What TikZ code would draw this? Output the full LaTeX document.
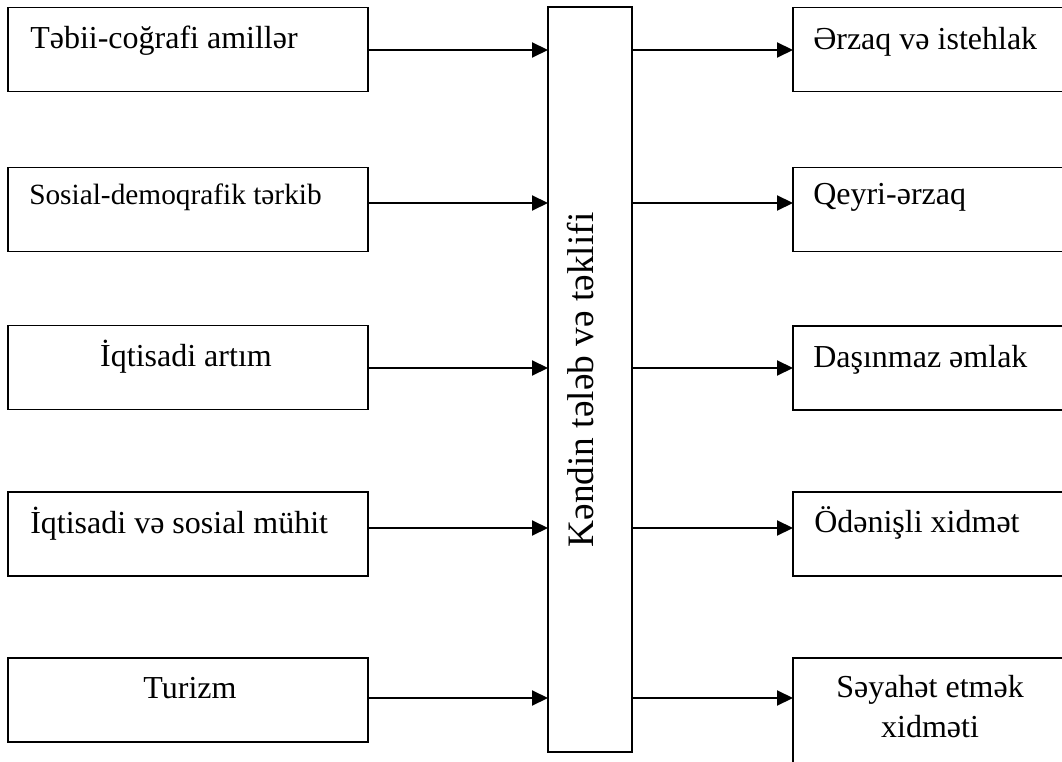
\documentclass[tikz,border=0pt]{standalone}
\usepackage{fontspec}
\setmainfont{Liberation Serif}
\usetikzlibrary{arrows.meta}
\begin{document}
\begin{tikzpicture}[x=0.75pt,y=-0.75pt,
  box/.style={draw, line width=1.3pt, inner sep=0pt, outer sep=0pt},
  lbox/.style={box, minimum width=270pt, minimum height=63pt},
  rbox/.style={box, minimum width=205.5pt, minimum height=63pt},
  txt/.style={inner sep=0pt, font=\fontsize{24}{30}\selectfont},
  arr/.style={line width=1.5pt, -{Triangle[length=12pt,width=11.25pt]}}]
\useasboundingbox (0,0) rectangle (1062,762);
% left boxes
\node[lbox] (L1) at (188,49.5) {};
\node[lbox] (L2) at (188,209.5) {};
\node[lbox] (L3) at (188,367.5) {};
\node[lbox] (L4) at (188,534) {};
\node[lbox] (L5) at (188,700) {};
% centre box
\node[box, minimum width=63pt, minimum height=558.75pt] (C) at (590,379.5) {};
% right boxes
\node[rbox] (R1) at (930,49.5) {};
\node[rbox] (R2) at (930,209.5) {};
\node[rbox] (R3) at (930,368) {};
\node[rbox] (R4) at (930,534) {};
\node[box, minimum width=205.5pt, minimum height=91.5pt] (R5) at (930,719) {};
% texts
\node[txt, anchor=base west] (t1) at (30,49) {Təbii-coğrafi amillər};
\node[txt, anchor=base west, font=\fontsize{22}{28}\selectfont] (t2) at (29,205) {Sosial-demoqrafik tərkib};
\node[txt, anchor=base] (t3) at (186,367) {İqtisadi artım};
\node[txt, anchor=base west] (t4) at (30,533) {İqtisadi və sosial mühit};
\node[txt, anchor=base] (t5) at (190,698) {Turizm};
\node[txt, anchor=base west] (s1) at (813,50) {Ərzaq və istehlak};
\node[txt, anchor=base west] (s2) at (813,205) {Qeyri-ərzaq};
\node[txt, anchor=base west] (s3) at (813,368) {Daşınmaz əmlak};
\node[txt, anchor=base west] (s4) at (814,532) {Ödənişli xidmət};
\node[txt, anchor=base] (s5a) at (930,697) {Səyahət etmək};
\node[txt, anchor=base] (s5b) at (930,737) {xidməti};
\node[inner sep=0pt, anchor=base, rotate=90, font=\fontsize{28}{34}\selectfont] (ct) at (593,380) {Kəndin tələb və təklifi};
% arrow levels
\coordinate (a1) at (0,50);
\coordinate (a2) at (0,203);
\coordinate (a3) at (0,368);
\coordinate (a4) at (0,528);
\coordinate (a5) at (0,698);
\draw[arr] (L1.east |- a1) -- (C.west |- a1);
\draw[arr] (L2.east |- a2) -- (C.west |- a2);
\draw[arr] (L3.east |- a3) -- (C.west |- a3);
\draw[arr] (L4.east |- a4) -- (C.west |- a4);
\draw[arr] (L5.east |- a5) -- (C.west |- a5);
\draw[arr] (C.east |- a1) -- (R1.west |- a1);
\draw[arr] (C.east |- a2) -- (R2.west |- a2);
\draw[arr] (C.east |- a3) -- (R3.west |- a3);
\draw[arr] (C.east |- a4) -- (R4.west |- a4);
\draw[arr] (C.east |- a5) -- (R5.west |- a5);
\end{tikzpicture}
\end{document}
